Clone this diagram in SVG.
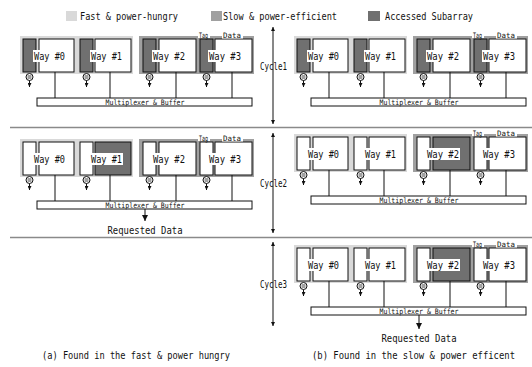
<svg xmlns="http://www.w3.org/2000/svg" width="532" height="367" viewBox="0 0 532 367">
<defs>
<style>
text{font-family:"DejaVu Sans Mono","Liberation Mono",monospace;fill:#111}
.lt{fill:#d9d9d9}
.md{fill:#a0a0a0}
.dk{fill:#707070;stroke:#111;stroke-width:1}
.wt{fill:#fff;stroke:#111;stroke-width:1}
.bg{fill:#fff}
.lbl{font-size:11px}
.sm{font-size:7.5px}
.mx{font-size:7.5px}
.big{font-size:11px}
.cy{font-size:10px}
.eq{stroke:#111;stroke-width:0.8;fill:none}
.ln{stroke:#111;stroke-width:1;fill:none}
.sep{stroke:#8a8a8a;stroke-width:1.6}
</style>
<marker id="ah" viewBox="0 0 6 6" refX="6" refY="3" markerWidth="4" markerHeight="4" orient="auto-start-reverse"><path d="M0,0L6,3L0,6z" fill="#111"/></marker>
<marker id="ahb" viewBox="0 0 6 6" refX="6" refY="3" markerWidth="6" markerHeight="6" orient="auto-start-reverse"><path d="M0,0L6,3L0,6z" fill="#111"/></marker>
</defs>
<rect width="532" height="367" fill="#fff"/>

<g id="legend">
<g id="legend-fast"><rect class="lt" x="66" y="11" width="11" height="10"/><text class="big" x="80" y="20" textLength="98" lengthAdjust="spacingAndGlyphs">Fast &amp; power-hungry</text></g>
<g id="legend-slow"><rect class="md" x="211" y="11" width="11" height="10"/><text class="big" x="223" y="20" textLength="114" lengthAdjust="spacingAndGlyphs">Slow &amp; power-efficient</text></g>
<g id="legend-accessed"><rect fill="#707070" x="368" y="11" width="12" height="10"/><text class="big" x="385" y="20" textLength="88" lengthAdjust="spacingAndGlyphs">Accessed Subarray</text></g>
</g>

<g id="separators">
<line class="sep" x1="10" y1="127.5" x2="532" y2="127.5"/>
<line class="sep" x1="10" y1="237.5" x2="532" y2="237.5"/>
</g>

<!-- Panel (a) cycle 1 -->
<g id="a1" transform="translate(0,0)">
<rect class="lt" x="20" y="36" width="113" height="38"/>
<rect class="md" x="139" y="36" width="115" height="38"/>
<g id="a1-way0"><rect class="dk" x="23" y="39" width="13" height="33"/><rect class="wt" x="39" y="39" width="35" height="33"/><rect class="bg" x="33" y="50" width="33" height="12"/><text class="lbl" x="34" y="60" textLength="31" lengthAdjust="spacingAndGlyphs">Way #0</text><circle class="wt" cx="29.5" cy="77" r="3.5"/><path class="eq" d="M27.5,76h4M27.5,78h4"/></g>
<g id="a1-way1"><rect class="dk" x="80" y="39" width="13" height="33"/><rect class="wt" x="95" y="39" width="36" height="33"/><rect class="bg" x="90" y="50" width="33" height="12"/><text class="lbl" x="91" y="60" textLength="31" lengthAdjust="spacingAndGlyphs">Way #1</text><circle class="wt" cx="86.5" cy="77" r="3.5"/><path class="eq" d="M84.5,76h4M84.5,78h4"/></g>
<g id="a1-way2"><rect class="dk" x="143" y="39" width="13" height="33"/><rect class="wt" x="159" y="39" width="37" height="33"/><rect class="bg" x="152" y="50" width="34" height="12"/><text class="lbl" x="153" y="60" textLength="32" lengthAdjust="spacingAndGlyphs">Way #2</text><circle class="wt" cx="149.5" cy="77" r="3.5"/><path class="eq" d="M147.5,76h4M147.5,78h4"/></g>
<g id="a1-way3"><rect class="dk" x="200" y="39" width="13" height="33"/><rect class="wt" x="215" y="39" width="37" height="33"/><rect class="bg" x="208" y="50" width="34" height="12"/><text class="lbl" x="209" y="60" textLength="32" lengthAdjust="spacingAndGlyphs">Way #3</text><circle class="wt" cx="206.5" cy="77" r="3.5"/><path class="eq" d="M204.5,76h4M204.5,78h4"/><rect class="bg" x="198" y="31" width="12" height="7"/><text class="sm" x="199" y="37.5" textLength="9" lengthAdjust="spacingAndGlyphs">Tag</text><rect class="bg" x="222" y="31" width="21" height="7.5"/><text class="sm" x="223" y="38" textLength="18" lengthAdjust="spacingAndGlyphs">Data</text></g>
<g id="a1-mux"><rect class="wt" x="37" y="98" width="215" height="8"/><text class="mx" x="105.5" y="105" textLength="79" lengthAdjust="spacingAndGlyphs">Multiplexer &amp; Buffer</text></g>
</g>

<!-- Panel (a) cycle 2 -->
<g id="a2" transform="translate(0,103)">
<rect class="lt" x="20" y="36" width="113" height="38"/>
<rect class="md" x="139" y="36" width="115" height="38"/>
<g id="a2-way0"><rect class="wt" x="23" y="39" width="13" height="33"/><rect class="wt" x="39" y="39" width="35" height="33"/><rect class="bg" x="33" y="50" width="33" height="12"/><text class="lbl" x="34" y="60" textLength="31" lengthAdjust="spacingAndGlyphs">Way #0</text><circle class="wt" cx="29.5" cy="77" r="3.5"/><path class="eq" d="M27.5,76h4M27.5,78h4"/></g>
<g id="a2-way1"><rect class="wt" x="80" y="39" width="13" height="33"/><rect class="dk" x="95" y="39" width="36" height="33"/><rect class="bg" x="90" y="50" width="33" height="12"/><text class="lbl" x="91" y="60" textLength="31" lengthAdjust="spacingAndGlyphs">Way #1</text><circle class="wt" cx="86.5" cy="77" r="3.5"/><path class="eq" d="M84.5,76h4M84.5,78h4"/></g>
<g id="a2-way2"><rect class="wt" x="143" y="39" width="13" height="33"/><rect class="wt" x="159" y="39" width="37" height="33"/><rect class="bg" x="152" y="50" width="34" height="12"/><text class="lbl" x="153" y="60" textLength="32" lengthAdjust="spacingAndGlyphs">Way #2</text><circle class="wt" cx="149.5" cy="77" r="3.5"/><path class="eq" d="M147.5,76h4M147.5,78h4"/></g>
<g id="a2-way3"><rect class="wt" x="200" y="39" width="13" height="33"/><rect class="wt" x="215" y="39" width="37" height="33"/><rect class="bg" x="208" y="50" width="34" height="12"/><text class="lbl" x="209" y="60" textLength="32" lengthAdjust="spacingAndGlyphs">Way #3</text><circle class="wt" cx="206.5" cy="77" r="3.5"/><path class="eq" d="M204.5,76h4M204.5,78h4"/><rect class="bg" x="198" y="31" width="12" height="7"/><text class="sm" x="199" y="37.5" textLength="9" lengthAdjust="spacingAndGlyphs">Tag</text><rect class="bg" x="222" y="31" width="21" height="7.5"/><text class="sm" x="223" y="38" textLength="18" lengthAdjust="spacingAndGlyphs">Data</text></g>
<g id="a2-mux"><rect class="wt" x="37" y="98" width="215" height="8"/><text class="mx" x="105.5" y="105" textLength="79" lengthAdjust="spacingAndGlyphs">Multiplexer &amp; Buffer</text></g>
<g id="a2-result"><text class="big" x="107.5" y="131" textLength="75" lengthAdjust="spacingAndGlyphs">Requested Data</text></g>
</g>

<!-- Panel (b) cycle 1 -->
<g id="b1" transform="translate(274,0)">
<rect class="lt" x="20" y="36" width="113" height="38"/>
<rect class="md" x="139" y="36" width="115" height="38"/>
<g id="b1-way0"><rect class="dk" x="23" y="39" width="13" height="33"/><rect class="wt" x="39" y="39" width="35" height="33"/><rect class="bg" x="33" y="50" width="33" height="12"/><text class="lbl" x="34" y="60" textLength="31" lengthAdjust="spacingAndGlyphs">Way #0</text><circle class="wt" cx="29.5" cy="77" r="3.5"/><path class="eq" d="M27.5,76h4M27.5,78h4"/></g>
<g id="b1-way1"><rect class="dk" x="80" y="39" width="13" height="33"/><rect class="wt" x="95" y="39" width="36" height="33"/><rect class="bg" x="90" y="50" width="33" height="12"/><text class="lbl" x="91" y="60" textLength="31" lengthAdjust="spacingAndGlyphs">Way #1</text><circle class="wt" cx="86.5" cy="77" r="3.5"/><path class="eq" d="M84.5,76h4M84.5,78h4"/></g>
<g id="b1-way2"><rect class="dk" x="143" y="39" width="13" height="33"/><rect class="wt" x="159" y="39" width="37" height="33"/><rect class="bg" x="152" y="50" width="34" height="12"/><text class="lbl" x="153" y="60" textLength="32" lengthAdjust="spacingAndGlyphs">Way #2</text><circle class="wt" cx="149.5" cy="77" r="3.5"/><path class="eq" d="M147.5,76h4M147.5,78h4"/></g>
<g id="b1-way3"><rect class="dk" x="200" y="39" width="13" height="33"/><rect class="wt" x="215" y="39" width="37" height="33"/><rect class="bg" x="208" y="50" width="34" height="12"/><text class="lbl" x="209" y="60" textLength="32" lengthAdjust="spacingAndGlyphs">Way #3</text><circle class="wt" cx="206.5" cy="77" r="3.5"/><path class="eq" d="M204.5,76h4M204.5,78h4"/><rect class="bg" x="198" y="31" width="12" height="7"/><text class="sm" x="199" y="37.5" textLength="9" lengthAdjust="spacingAndGlyphs">Tag</text><rect class="bg" x="222" y="31" width="21" height="7.5"/><text class="sm" x="223" y="38" textLength="18" lengthAdjust="spacingAndGlyphs">Data</text></g>
<g id="b1-mux"><rect class="wt" x="37" y="98" width="215" height="8"/><text class="mx" x="105.5" y="105" textLength="79" lengthAdjust="spacingAndGlyphs">Multiplexer &amp; Buffer</text></g>
</g>

<!-- Panel (b) cycle 2 -->
<g id="b2" transform="translate(274,98)">
<rect class="lt" x="20" y="36" width="113" height="38"/>
<rect class="md" x="139" y="36" width="115" height="38"/>
<g id="b2-way0"><rect class="wt" x="23" y="39" width="13" height="33"/><rect class="wt" x="39" y="39" width="35" height="33"/><rect class="bg" x="33" y="50" width="33" height="12"/><text class="lbl" x="34" y="60" textLength="31" lengthAdjust="spacingAndGlyphs">Way #0</text><circle class="wt" cx="29.5" cy="77" r="3.5"/><path class="eq" d="M27.5,76h4M27.5,78h4"/></g>
<g id="b2-way1"><rect class="wt" x="80" y="39" width="13" height="33"/><rect class="wt" x="95" y="39" width="36" height="33"/><rect class="bg" x="90" y="50" width="33" height="12"/><text class="lbl" x="91" y="60" textLength="31" lengthAdjust="spacingAndGlyphs">Way #1</text><circle class="wt" cx="86.5" cy="77" r="3.5"/><path class="eq" d="M84.5,76h4M84.5,78h4"/></g>
<g id="b2-way2"><rect class="wt" x="143" y="39" width="13" height="33"/><rect class="dk" x="159" y="39" width="37" height="33"/><rect class="bg" x="152" y="50" width="34" height="12"/><text class="lbl" x="153" y="60" textLength="32" lengthAdjust="spacingAndGlyphs">Way #2</text><circle class="wt" cx="149.5" cy="77" r="3.5"/><path class="eq" d="M147.5,76h4M147.5,78h4"/></g>
<g id="b2-way3"><rect class="wt" x="200" y="39" width="13" height="33"/><rect class="wt" x="215" y="39" width="37" height="33"/><rect class="bg" x="208" y="50" width="34" height="12"/><text class="lbl" x="209" y="60" textLength="32" lengthAdjust="spacingAndGlyphs">Way #3</text><circle class="wt" cx="206.5" cy="77" r="3.5"/><path class="eq" d="M204.5,76h4M204.5,78h4"/><rect class="bg" x="198" y="31" width="12" height="7"/><text class="sm" x="199" y="37.5" textLength="9" lengthAdjust="spacingAndGlyphs">Tag</text><rect class="bg" x="222" y="31" width="21" height="7.5"/><text class="sm" x="223" y="38" textLength="18" lengthAdjust="spacingAndGlyphs">Data</text></g>
<g id="b2-mux"><rect class="wt" x="37" y="98" width="215" height="8"/><text class="mx" x="105.5" y="105" textLength="79" lengthAdjust="spacingAndGlyphs">Multiplexer &amp; Buffer</text></g>
</g>

<!-- Panel (b) cycle 3 -->
<g id="b3" transform="translate(274,209)">
<rect class="lt" x="20" y="36" width="113" height="38"/>
<rect class="md" x="139" y="36" width="115" height="38"/>
<g id="b3-way0"><rect class="wt" x="23" y="39" width="13" height="33"/><rect class="wt" x="39" y="39" width="35" height="33"/><rect class="bg" x="33" y="50" width="33" height="12"/><text class="lbl" x="34" y="60" textLength="31" lengthAdjust="spacingAndGlyphs">Way #0</text><circle class="wt" cx="29.5" cy="77" r="3.5"/><path class="eq" d="M27.5,76h4M27.5,78h4"/></g>
<g id="b3-way1"><rect class="wt" x="80" y="39" width="13" height="33"/><rect class="wt" x="95" y="39" width="36" height="33"/><rect class="bg" x="90" y="50" width="33" height="12"/><text class="lbl" x="91" y="60" textLength="31" lengthAdjust="spacingAndGlyphs">Way #1</text><circle class="wt" cx="86.5" cy="77" r="3.5"/><path class="eq" d="M84.5,76h4M84.5,78h4"/></g>
<g id="b3-way2"><rect class="wt" x="143" y="39" width="13" height="33"/><rect class="dk" x="159" y="39" width="37" height="33"/><rect class="bg" x="152" y="50" width="34" height="12"/><text class="lbl" x="153" y="60" textLength="32" lengthAdjust="spacingAndGlyphs">Way #2</text><circle class="wt" cx="149.5" cy="77" r="3.5"/><path class="eq" d="M147.5,76h4M147.5,78h4"/></g>
<g id="b3-way3"><rect class="wt" x="200" y="39" width="13" height="33"/><rect class="wt" x="215" y="39" width="37" height="33"/><rect class="bg" x="208" y="50" width="34" height="12"/><text class="lbl" x="209" y="60" textLength="32" lengthAdjust="spacingAndGlyphs">Way #3</text><circle class="wt" cx="206.5" cy="77" r="3.5"/><path class="eq" d="M204.5,76h4M204.5,78h4"/><rect class="bg" x="198" y="31" width="12" height="7"/><text class="sm" x="199" y="37.5" textLength="9" lengthAdjust="spacingAndGlyphs">Tag</text><rect class="bg" x="222" y="31" width="21" height="7.5"/><text class="sm" x="223" y="38" textLength="18" lengthAdjust="spacingAndGlyphs">Data</text></g>
<g id="b3-mux"><rect class="wt" x="37" y="98" width="215" height="8"/><text class="mx" x="105.5" y="105" textLength="79" lengthAdjust="spacingAndGlyphs">Multiplexer &amp; Buffer</text></g>
<g id="b3-result"><text class="big" x="107.5" y="133" textLength="75" lengthAdjust="spacingAndGlyphs">Requested Data</text></g>
</g>

<g id="cycles">
<text class="cy" x="260" y="70" textLength="27" lengthAdjust="spacingAndGlyphs">Cycle1</text>
<text class="cy" x="260" y="187" textLength="27" lengthAdjust="spacingAndGlyphs">Cycle2</text>
<text class="cy" x="260" y="288" textLength="27" lengthAdjust="spacingAndGlyphs">Cycle3</text>
</g>

<g id="connectors">
<line class="ln" x1="273" y1="27" x2="273" y2="124" marker-start="url(#ah)" marker-end="url(#ah)"/>
<line class="ln" x1="273" y1="133" x2="273" y2="233" marker-start="url(#ah)" marker-end="url(#ah)"/>
<line class="ln" x1="273" y1="242" x2="273" y2="326" marker-start="url(#ah)" marker-end="url(#ah)"/>
<g transform="translate(0,0)">
<path class="ln" d="M55,72V98M110,72V98M176,72V98M232,72V98"/>
<line class="ln" x1="29.5" y1="80.5" x2="29.5" y2="87" marker-end="url(#ah)"/><line class="ln" x1="86.5" y1="80.5" x2="86.5" y2="87" marker-end="url(#ah)"/><line class="ln" x1="149.5" y1="80.5" x2="149.5" y2="87" marker-end="url(#ah)"/><line class="ln" x1="206.5" y1="80.5" x2="206.5" y2="87" marker-end="url(#ah)"/>
</g>
<g transform="translate(0,103)">
<path class="ln" d="M55,72V98M110,72V98M176,72V98M232,72V98"/>
<line class="ln" x1="29.5" y1="80.5" x2="29.5" y2="87" marker-end="url(#ah)"/><line class="ln" x1="86.5" y1="80.5" x2="86.5" y2="87" marker-end="url(#ah)"/><line class="ln" x1="149.5" y1="80.5" x2="149.5" y2="87" marker-end="url(#ah)"/><line class="ln" x1="206.5" y1="80.5" x2="206.5" y2="87" marker-end="url(#ah)"/>
<line class="ln" x1="145" y1="106" x2="145" y2="118" stroke-width="1.5" marker-end="url(#ahb)"/>
</g>
<g transform="translate(274,0)">
<path class="ln" d="M55,72V98M110,72V98M176,72V98M232,72V98"/>
<line class="ln" x1="29.5" y1="80.5" x2="29.5" y2="87" marker-end="url(#ah)"/><line class="ln" x1="86.5" y1="80.5" x2="86.5" y2="87" marker-end="url(#ah)"/><line class="ln" x1="149.5" y1="80.5" x2="149.5" y2="87" marker-end="url(#ah)"/><line class="ln" x1="206.5" y1="80.5" x2="206.5" y2="87" marker-end="url(#ah)"/>
</g>
<g transform="translate(274,98)">
<path class="ln" d="M55,72V98M110,72V98M176,72V98M232,72V98"/>
<line class="ln" x1="29.5" y1="80.5" x2="29.5" y2="87" marker-end="url(#ah)"/><line class="ln" x1="86.5" y1="80.5" x2="86.5" y2="87" marker-end="url(#ah)"/><line class="ln" x1="149.5" y1="80.5" x2="149.5" y2="87" marker-end="url(#ah)"/><line class="ln" x1="206.5" y1="80.5" x2="206.5" y2="87" marker-end="url(#ah)"/>
</g>
<g transform="translate(274,209)">
<path class="ln" d="M55,72V98M110,72V98M176,72V98M232,72V98" stroke-width="1.5"/>
<line class="ln" x1="29.5" y1="80.5" x2="29.5" y2="87" marker-end="url(#ah)"/><line class="ln" x1="86.5" y1="80.5" x2="86.5" y2="87" marker-end="url(#ah)"/><line class="ln" x1="149.5" y1="80.5" x2="149.5" y2="87" marker-end="url(#ah)"/><line class="ln" x1="206.5" y1="80.5" x2="206.5" y2="87" marker-end="url(#ah)"/>
<line class="ln" x1="145" y1="106" x2="145" y2="120" stroke-width="1.5" marker-end="url(#ahb)"/>
</g>
</g>

<g id="captions">
<text class="big" x="42" y="359" textLength="188" lengthAdjust="spacingAndGlyphs">(a) Found in the fast &amp; power hungry</text>
<text class="big" x="312" y="359" textLength="203" lengthAdjust="spacingAndGlyphs">(b) Found in the slow &amp; power efficent</text>
</g>
</svg>
